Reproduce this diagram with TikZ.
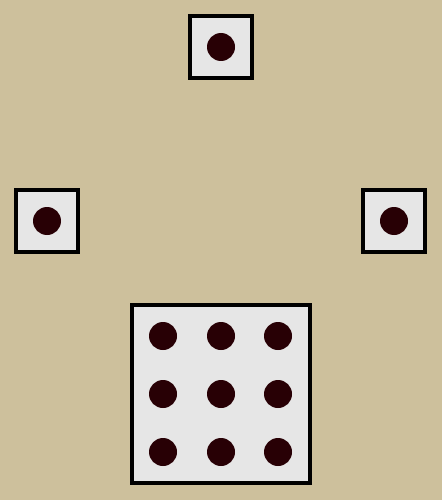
\documentclass[tikz,border=0pt]{standalone}
\definecolor{bg}{RGB}{205,192,156}
\definecolor{boxfill}{RGB}{230,230,230}
\definecolor{dot}{RGB}{40,0,5}
\begin{document}
\begin{tikzpicture}[x=1pt,y=-1pt,
  card/.style={draw=black,line width=4pt,fill=boxfill,inner sep=0pt,minimum size=62pt},
  bigcard/.style={card,minimum size=178pt},
  pip/.style={circle,fill=dot,inner sep=0pt,minimum size=28pt}]
\fill[bg] (0,0) rectangle (442,500);
\useasboundingbox (0,0) rectangle (442,500);
\node[card] (top) at (221,47) {};
\node[card] (left) at (47,221) {};
\node[card] (right) at (394,221) {};
\node[bigcard] (big) at (221,394) {};
\node[pip] (ptop) at (top) {};
\node[pip] (pleft) at (left) {};
\node[pip] (pright) at (right) {};
\foreach \i/\x in {1/163,2/221,3/278}{
  \foreach \j/\y in {1/336,2/394,3/452}{
    \node[pip] (p\i\j) at (\x,\y) {};
  }
}
\end{tikzpicture}
\end{document}
